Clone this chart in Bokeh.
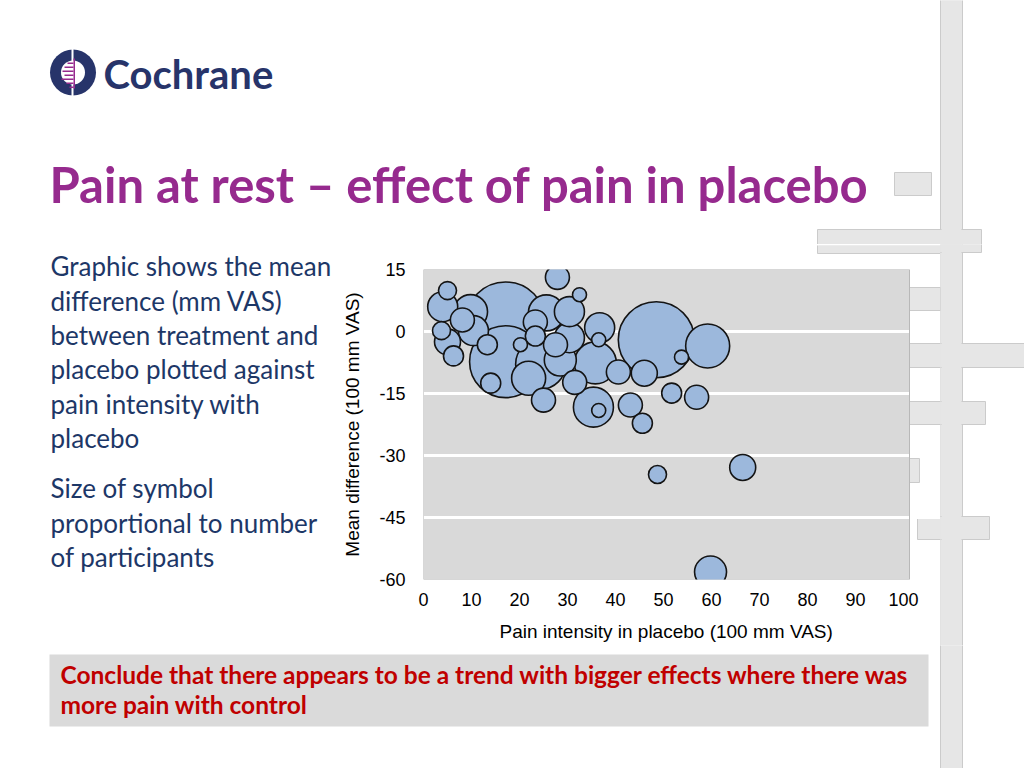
import numpy as np
from bokeh.plotting import figure
from bokeh.models import (ColumnDataSource, Range1d, FixedTicker, CustomJSTickFormatter)
from bokeh.layouts import column, row
from bokeh.core.properties import value
from bokeh.embed import file_html
from bokeh.resources import INLINE

# ---------------- data ----------------
pain_placebo = [5.0, 4.0, 9.8, 17.1, 17.1, 10.4, 13.3, 5.0, 3.75, 6.25,
                20.2, 23.3, 23.3, 25.6, 21.9, 25.0, 14.0, 27.9, 32.5, 30.4,
                30.4, 24.4, 36.7, 36.5, 35.8, 40.6, 35.4, 36.5, 43.1, 45.6,
                48.5, 59.2, 53.75, 46.0, 51.7, 56.9, 48.75, 66.5, 59.8, 8.1,
                28.5, 31.5, 27.5]
mean_difference = [9.9, 6.0, 4.8, 2.3, -7.3, 0.2, -3.2, -2.5, 0.2, -5.9,
                   -3.2, -1.1, 2.3, 4.5, -11.3, -16.6, -12.5, 13.1, 8.9, 4.8,
                   -1.5, -7.9, 0.9, -2.0, -7.6, -9.8, -18.3, -19.1, -17.8, -22.2,
                   -2.0, -3.5, -6.2, -10.1, -14.9, -15.9, -34.6, -32.9, -58.2, 2.8,
                   -6.9, -12.3, -3.2]
participants = [81, 225, 289, 1600, 1296, 225, 100, 169, 81, 100,
                49, 100, 144, 324, 289, 144, 100, 144, 49, 225,
                225, 625, 225, 49, 441, 144, 400, 49, 144, 100,
                1444, 484, 49, 169, 100, 144, 81, 169, 256, 144,
                256, 144, 144]

x_ticks = [0, 10, 20, 30, 40, 50, 60, 70, 80, 90, 100]
y_ticks = [-60, -45, -30, -15, 0, 15]

title_text = "Pain at rest \u2013 effect of pain in placebo"
body_lines_1 = ["Graphic shows the mean", "difference (mm VAS)",
                "between treatment and", "placebo plotted against",
                "pain intensity with", "placebo"]
body_lines_2 = ["Size of symbol", "proportional to number", "of participants"]
conclusion_lines = ["Conclude that there appears to be a trend with bigger effects where there was",
                    "more pain with control"]
x_label = "Pain intensity in placebo (100 mm VAS)"
y_label = "Mean difference (100 mm VAS)"

# ---------------- page layout (page pixels) ----------------
PAGE_W, PAGE_H = 1024, 768
TOP_H = 244        # bottom of the top strip
CHART_T = 255      # top of the chart figure
MID_B = 645
L_R = 335
C_R = 940
PLOT_L, PLOT_R, PLOT_T, PLOT_B = 423, 909, 269, 579
X_END = 100 * (PLOT_R - PLOT_L) / (903 - PLOT_L)   # 100 sits at px 903
FRAME_X_END = X_END * (C_R - PLOT_L) / (PLOT_R - PLOT_L)

DEC_FILL = "#e6e6e6"
DEC_LINE = "#cbcbcb"
bars = [  # left, right, top, bottom (page px)
    (940, 962, -4, 772),
    (894, 931, 172, 195),
    (817, 981, 229, 252),
    (909, 940, 287, 310),
    (909, 1030, 343, 367),
    (909, 985, 401, 424),
    (909, 919, 458, 482),
    (917, 989, 516, 539),
]
NAVY = "#27346a"
PURPLE = "#962a8e"
BODY = "#1d3767"
RED = "#c00000"
BASE_K = 0.41   # baseline correction of the text glyph (fraction of font size)


def deco_fig(x0, x1, y0, y1):
    f = figure(width=x1 - x0, height=y1 - y0, x_range=Range1d(x0, x1),
               y_range=Range1d(y1, y0), output_backend="svg", toolbar_location=None,
               x_axis_type=None, y_axis_type=None, min_border=0, title=None)
    f.outline_line_color = None
    f.background_fill_color = "white"
    f.border_fill_color = "white"
    f.grid.visible = False
    return f


def add_bars(f, x_range_name="default", y_range_name="default", level="glyph"):
    r1 = f.quad(left=[b[0] for b in bars], right=[b[1] for b in bars],
                top=[b[2] for b in bars], bottom=[b[3] for b in bars],
                fill_color=DEC_FILL, line_color=DEC_LINE, line_width=1,
                x_range_name=x_range_name, y_range_name=y_range_name)
    inner = [b for b in bars if b[0] != 894]
    r2 = f.quad(left=[b[0] + 1 for b in inner], right=[b[1] - 1 for b in inner],
                top=[b[2] + 1 for b in inner], bottom=[b[3] - 1 for b in inner],
                fill_color=DEC_FILL, line_color=None,
                x_range_name=x_range_name, y_range_name=y_range_name)
    r1.level = level
    r2.level = level


def add_text(f, xs, ys, texts, size, color, bold=False, dy=0.0):
    f.text(x=xs, y=[v - BASE_K * size + dy for v in ys], text=texts, text_font=value("Lato"),
           text_font_style="bold" if bold else "normal",
           text_font_size=value(f"{size}px"), text_color=color,
           text_baseline="alphabetic")


# ---------------- top strip: logo + title ----------------
top = deco_fig(0, PAGE_W, 0, TOP_H)
add_bars(top)
top.circle(x=[72.5], y=[72], radius=23, fill_color=NAVY, line_color=None)
top.circle(x=[72.5], y=[72], radius=12, fill_color="white", line_color=None)
top.quad(left=[71], right=[73], top=[48], bottom=[96], fill_color="white", line_color=None)
top.quad(left=[73], right=[74.5], top=[58], bottom=[88], fill_color=PURPLE, line_color=None)
tick_y = [62, 66, 70, 74, 78, 82, 86]
tick_w = [6, 9, 11, 9, 12, 7, 4]
top.quad(left=[73 - w for w in tick_w], right=[73] * len(tick_w), top=tick_y,
         bottom=[v + 1.5 for v in tick_y], fill_color=PURPLE, line_color=None)
add_text(top, [103], [90], ["Cochrane"], 40, NAVY, bold=True)
add_text(top, [49], [204], [title_text], 49, PURPLE, bold=True)

# ---------------- left: body text ----------------
left = deco_fig(0, L_R, TOP_H, MID_B)
ys1 = [274 + 34.3 * i for i in range(len(body_lines_1))]
ys2 = [496 + 34.3 * i for i in range(len(body_lines_2))]
add_text(left, [50] * (len(ys1) + len(ys2)), ys1 + ys2, body_lines_1 + body_lines_2, 26, BODY,
         dy=2.5)

# thin strip above the chart
strip = deco_fig(L_R, C_R, TOP_H, CHART_T)
add_bars(strip)

# ---------------- chart ----------------
p = figure(width=C_R - L_R, height=MID_B - CHART_T, output_backend="svg", toolbar_location=None,
           x_range=Range1d(0, FRAME_X_END), y_range=Range1d(-60, 15), title=None,
           min_border_left=PLOT_L - L_R, min_border_right=0,
           min_border_top=PLOT_T - CHART_T, min_border_bottom=MID_B - PLOT_B)
p.extra_x_ranges = {"px": Range1d(PLOT_L, C_R)}
p.extra_y_ranges = {"py": Range1d(PLOT_B, PLOT_T)}
p.background_fill_color = "white"
p.border_fill_color = "white"
p.outline_line_color = None

area = p.quad(left=[0], right=[X_END], bottom=[-60], top=[15], fill_color="#d9d9d9",
              line_color=None)
area.level = "image"
add_bars(p, "px", "py", level="image")

p.xgrid.visible = False
p.ygrid.grid_line_color = "white"
p.ygrid.grid_line_width = 3
p.ygrid.bounds = (0, X_END)

for ax in (p.xaxis[0], p.yaxis[0]):
    ax.axis_line_color = None
    ax.major_tick_line_color = None
    ax.minor_tick_line_color = None
    ax.major_tick_out = 0
    ax.major_tick_in = 0
    ax.major_label_text_font = "Liberation Sans"
    ax.major_label_text_font_size = "18px"
    ax.major_label_text_color = "black"
    ax.axis_label_text_font = "Liberation Sans"
    ax.axis_label_text_font_size = "19px"
    ax.axis_label_text_font_style = "normal"
    ax.axis_label_text_color = "black"
    ax.formatter = CustomJSTickFormatter(code="return tick.toString()")

p.xaxis.ticker = FixedTicker(ticks=x_ticks)
p.yaxis.ticker = FixedTicker(ticks=y_ticks)
p.xaxis.major_label_standoff = 13
p.yaxis.major_label_standoff = 18
# the frame runs on under the slide bars to x=940; non-breaking padding keeps the
# label centred under the grey plot area, as in the slide
p.xaxis.axis_label = x_label + "\u00a0" * 6
p.yaxis.axis_label = y_label
p.xaxis.axis_label_standoff = 12
p.yaxis.axis_label_standoff = 13

# plot-area outline above the white grid lines
p.quad(left=[0], right=[X_END], bottom=[-60], top=[15], fill_color=None,
       line_color="#b8b8b8", line_width=1)

order = np.argsort(participants)[::-1]
src = ColumnDataSource(dict(
    x=[pain_placebo[i] for i in order],
    y=[mean_difference[i] for i in order],
    n=[participants[i] for i in order],
    size=[2.0 * np.sqrt(participants[i]) for i in order],
))
p.scatter("x", "y", size="size", source=src, fill_color="#9cb8dc",
          line_color="#141414", line_width=1.6, fill_alpha=1.0)

# ---------------- right strip ----------------
right = deco_fig(C_R, PAGE_W, TOP_H, MID_B)
add_bars(right)

# ---------------- bottom strip ----------------
bottom = deco_fig(0, PAGE_W, MID_B, PAGE_H)
add_bars(bottom)
bottom.quad(left=[49], right=[928], top=[654], bottom=[726], fill_color="#dadada", line_color=None)
add_text(bottom, [60, 60], [684, 714], conclusion_lines, 24.5, RED, bold=True)

middle = row(column(left), column(column(strip), column(p)), column(right))
page = column(top, middle, bottom)
open("out.html", "w").write(file_html(page, INLINE))
